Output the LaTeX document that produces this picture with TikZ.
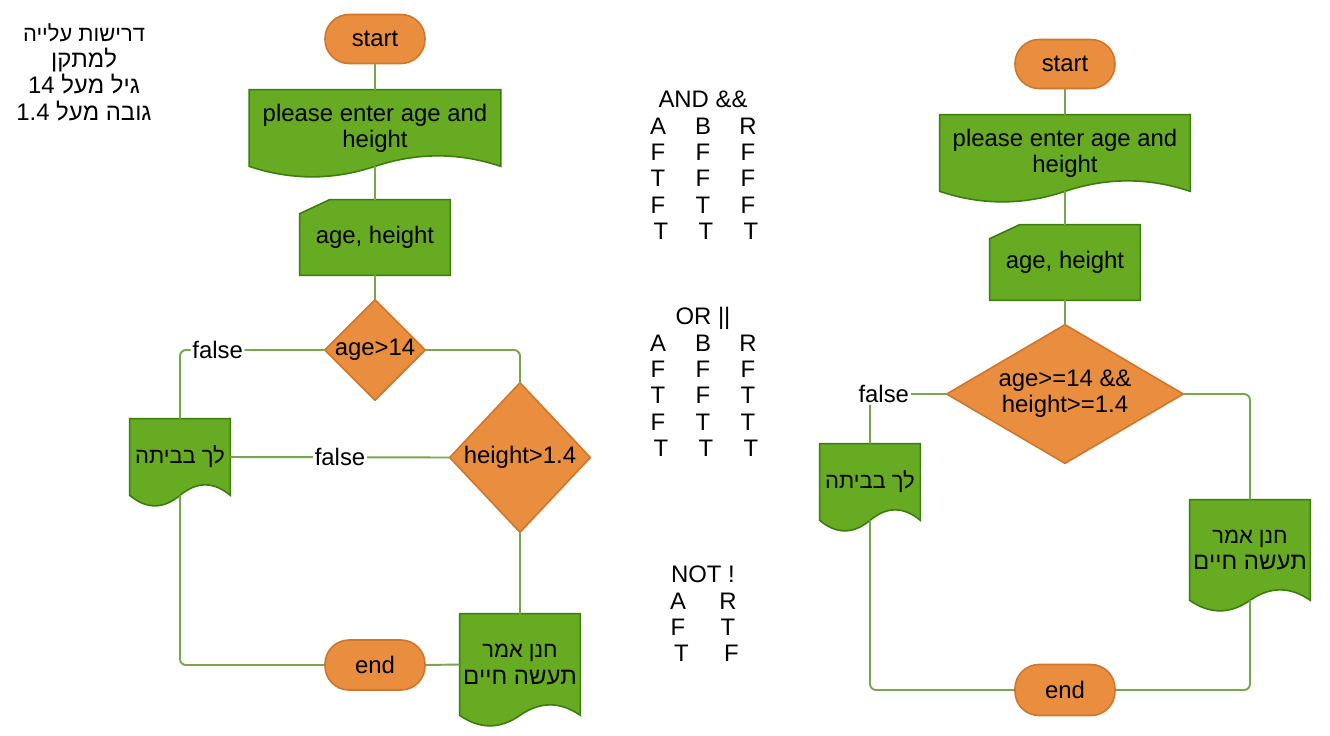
\documentclass[tikz,border=0pt]{standalone}
\usepackage{fontspec}
\setmainfont{Liberation Sans}
\newfontfamily\hebfont[Script=Hebrew]{Liberation Sans}
\TeXXeTstate=1
\usetikzlibrary{calc}
\usetikzlibrary{backgrounds}

\definecolor{orfill}{HTML}{E88E3E}
\definecolor{orline}{HTML}{D0752A}
\definecolor{grfill}{HTML}{66AB21}
\definecolor{grline}{HTML}{3A7D0C}
\definecolor{lnclr}{HTML}{76A74A}

\tikzset{
  terminal/.style={rectangle, draw=orline, fill=orfill, line width=0.9pt, rounded corners=0.48cm, minimum width=2cm, minimum height=0.98cm, inner sep=0pt},
  shapebox/.style={rectangle, inner sep=0pt, align=center},
  greenpath/.style={fill=grfill, draw=grline, line width=0.9pt},
  orangepath/.style={fill=orfill, draw=orline, line width=0.9pt},
  link/.style={draw=lnclr, line width=1.1pt, rounded corners=0.12cm},
  lbl/.style={fill=white, inner sep=1pt},
}

\newcommand{\heb}{\fontsize{12.5}{15}\hebfont}
\newcommand{\tcell}[1]{\makebox[0.9cm]{#1}}
\newcommand{\ncell}[1]{\makebox[1cm]{#1}}

% document shape, wavy bottom
\newcommand{\docshape}[1]{%
  \begin{scope}[on background layer]
    \path[greenpath] (#1.north west) -- (#1.north east) -- (#1.south east)
      .. controls ($(#1.south east)!1/6!(#1.south west)+(0,-14)$) and ($(#1.south east)!1/3!(#1.south west)+(0,-14)$) .. (#1.south)
      .. controls ($(#1.south)!1/3!(#1.south west)+(0,14)$) and ($(#1.south)!2/3!(#1.south west)+(0,14)$) .. (#1.south west) -- cycle;
  \end{scope}}
% manual input shape
\newcommand{\inshape}[1]{%
  \begin{scope}[on background layer]
    \path[greenpath] ($(#1.north west)+(0,14)$) -- ($(#1.north west)+(30,0)$) -- (#1.north east) -- (#1.south east) -- (#1.south west) -- cycle;
  \end{scope}}
% decision shape
\newcommand{\decshape}[1]{%
  \begin{scope}[on background layer]
    \path[orangepath] (#1.north) -- (#1.east) -- (#1.south) -- (#1.west) -- cycle;
  \end{scope}}

\begin{document}
\begin{tikzpicture}[x=0.02cm, y=-0.02cm, font=\fontsize{13.6}{15}\selectfont]
  \useasboundingbox (0,0) rectangle (1330,735);

  % requirements
  \node[align=center] (reqs) at (84,72) {\heb\beginR דרישות עלייה\endR\\\beginR למתקן\endR\\\beginR גיל מעל \beginL 14\endL\endR\\\beginR גובה מעל \beginL 1.4\endL\endR};

  % left chart
  \node[terminal] (lstart) at (375,39) {start};
  \node[shapebox, minimum width=5.02cm, minimum height=1.52cm] (lask) at (375,128) {please enter age and\\height};
  \node[shapebox, minimum width=3cm, minimum height=1.5cm] (lin) at (375,237.5) {age, height};
  \node[shapebox, minimum width=2cm, minimum height=2cm] (lage) at (375,350) {age>14};
  \node[shapebox, minimum width=2.8cm, minimum height=2.98cm] (lhgt) at (520,457.5) {height>1.4};
  \node[shapebox, minimum width=2cm, minimum height=1.52cm] (lno) at (180,457) {\heb\beginR לך בביתה\endR};
  \node[shapebox, minimum width=2.4cm, minimum height=2.02cm] (lyes) at (520,664.5) {\heb\beginR חנן אמר\endR\\\beginR תעשה חיים\endR};
  \node[terminal, minimum height=1cm] (lend) at (375,665) {end};
  \docshape{lask}
  \inshape{lin}
  \decshape{lage}
  \decshape{lhgt}
  \docshape{lno}
  \docshape{lyes}

  \draw[link] (lstart) -- (lask);
  \draw[link] (lask) -- (lin);
  \draw[link] (lin) -- (lage);
  \draw[link] (lage.west) -| node[lbl, pos=0.37] {false} (lno.north);
  \draw[link] (lage.east) -| (lhgt.north);
  \draw[link] (lhgt.west) -- node[lbl] {false} (lno.east);
  \draw[link] (lhgt.south) -- (lyes.north);
  \draw[link] (lend.east) -- (lyes.west);
  \draw[link] (lend.west) -| (lno.south);

  % truth tables
  \node[align=center] (andtab) at (703,165.5) {AND \&\&\\\tcell{A}\tcell{B}\tcell{R}\\\tcell{F}\tcell{F}\tcell{F}\\\tcell{T}\tcell{F}\tcell{F}\\\tcell{F}\tcell{T}\tcell{F}\\\hspace*{0.12cm}\tcell{T}\tcell{T}\tcell{T}};
  \node[align=center] (ortab) at (703,382) {OR ||\\\tcell{A}\tcell{B}\tcell{R}\\\tcell{F}\tcell{F}\tcell{F}\\\tcell{T}\tcell{F}\tcell{T}\\\tcell{F}\tcell{T}\tcell{T}\\\hspace*{0.12cm}\tcell{T}\tcell{T}\tcell{T}};
  \node[align=center] (nottab) at (703,614) {NOT !\\\ncell{A}\ncell{R}\\\ncell{F}\ncell{T}\\\hspace*{0.14cm}\ncell{T}\ncell{F}};

  % right chart
  \node[terminal] (rstart) at (1065,64) {start};
  \node[shapebox, minimum width=5cm, minimum height=1.52cm] (rask) at (1065,153) {please enter age and\\height};
  \node[shapebox, minimum width=3cm, minimum height=1.5cm] (rin) at (1065,262.5) {age, height};
  \node[shapebox, minimum width=4.72cm, minimum height=2.76cm] (rcond) at (1065,394) {age>=14 \&\&\\height>=1.4};
  \node[shapebox, minimum width=2cm, minimum height=1.52cm] (rno) at (870,482) {\heb\beginR לך בביתה\endR};
  \node[shapebox, minimum width=2.4cm, minimum height=2cm] (ryes) at (1250,550) {\heb\beginR חנן אמר\endR\\\beginR תעשה חיים\endR};
  \node[terminal, minimum height=1.02cm] (rend) at (1065,690) {end};
  \docshape{rask}
  \inshape{rin}
  \decshape{rcond}
  \docshape{rno}
  \docshape{ryes}

  \draw[link] (rstart) -- (rask);
  \draw[link] (rask) -- (rin);
  \draw[link] (rin) -- (rcond);
  \draw[link] (rcond.west) -| node[lbl, pos=0.41] {false} (rno.north);
  \draw[link] (rcond.east) -| (ryes.north);
  \draw[link] (rend.west) -| (rno.south);
  \draw[link] (rend.east) -| (ryes.south);
\end{tikzpicture}
\end{document}
